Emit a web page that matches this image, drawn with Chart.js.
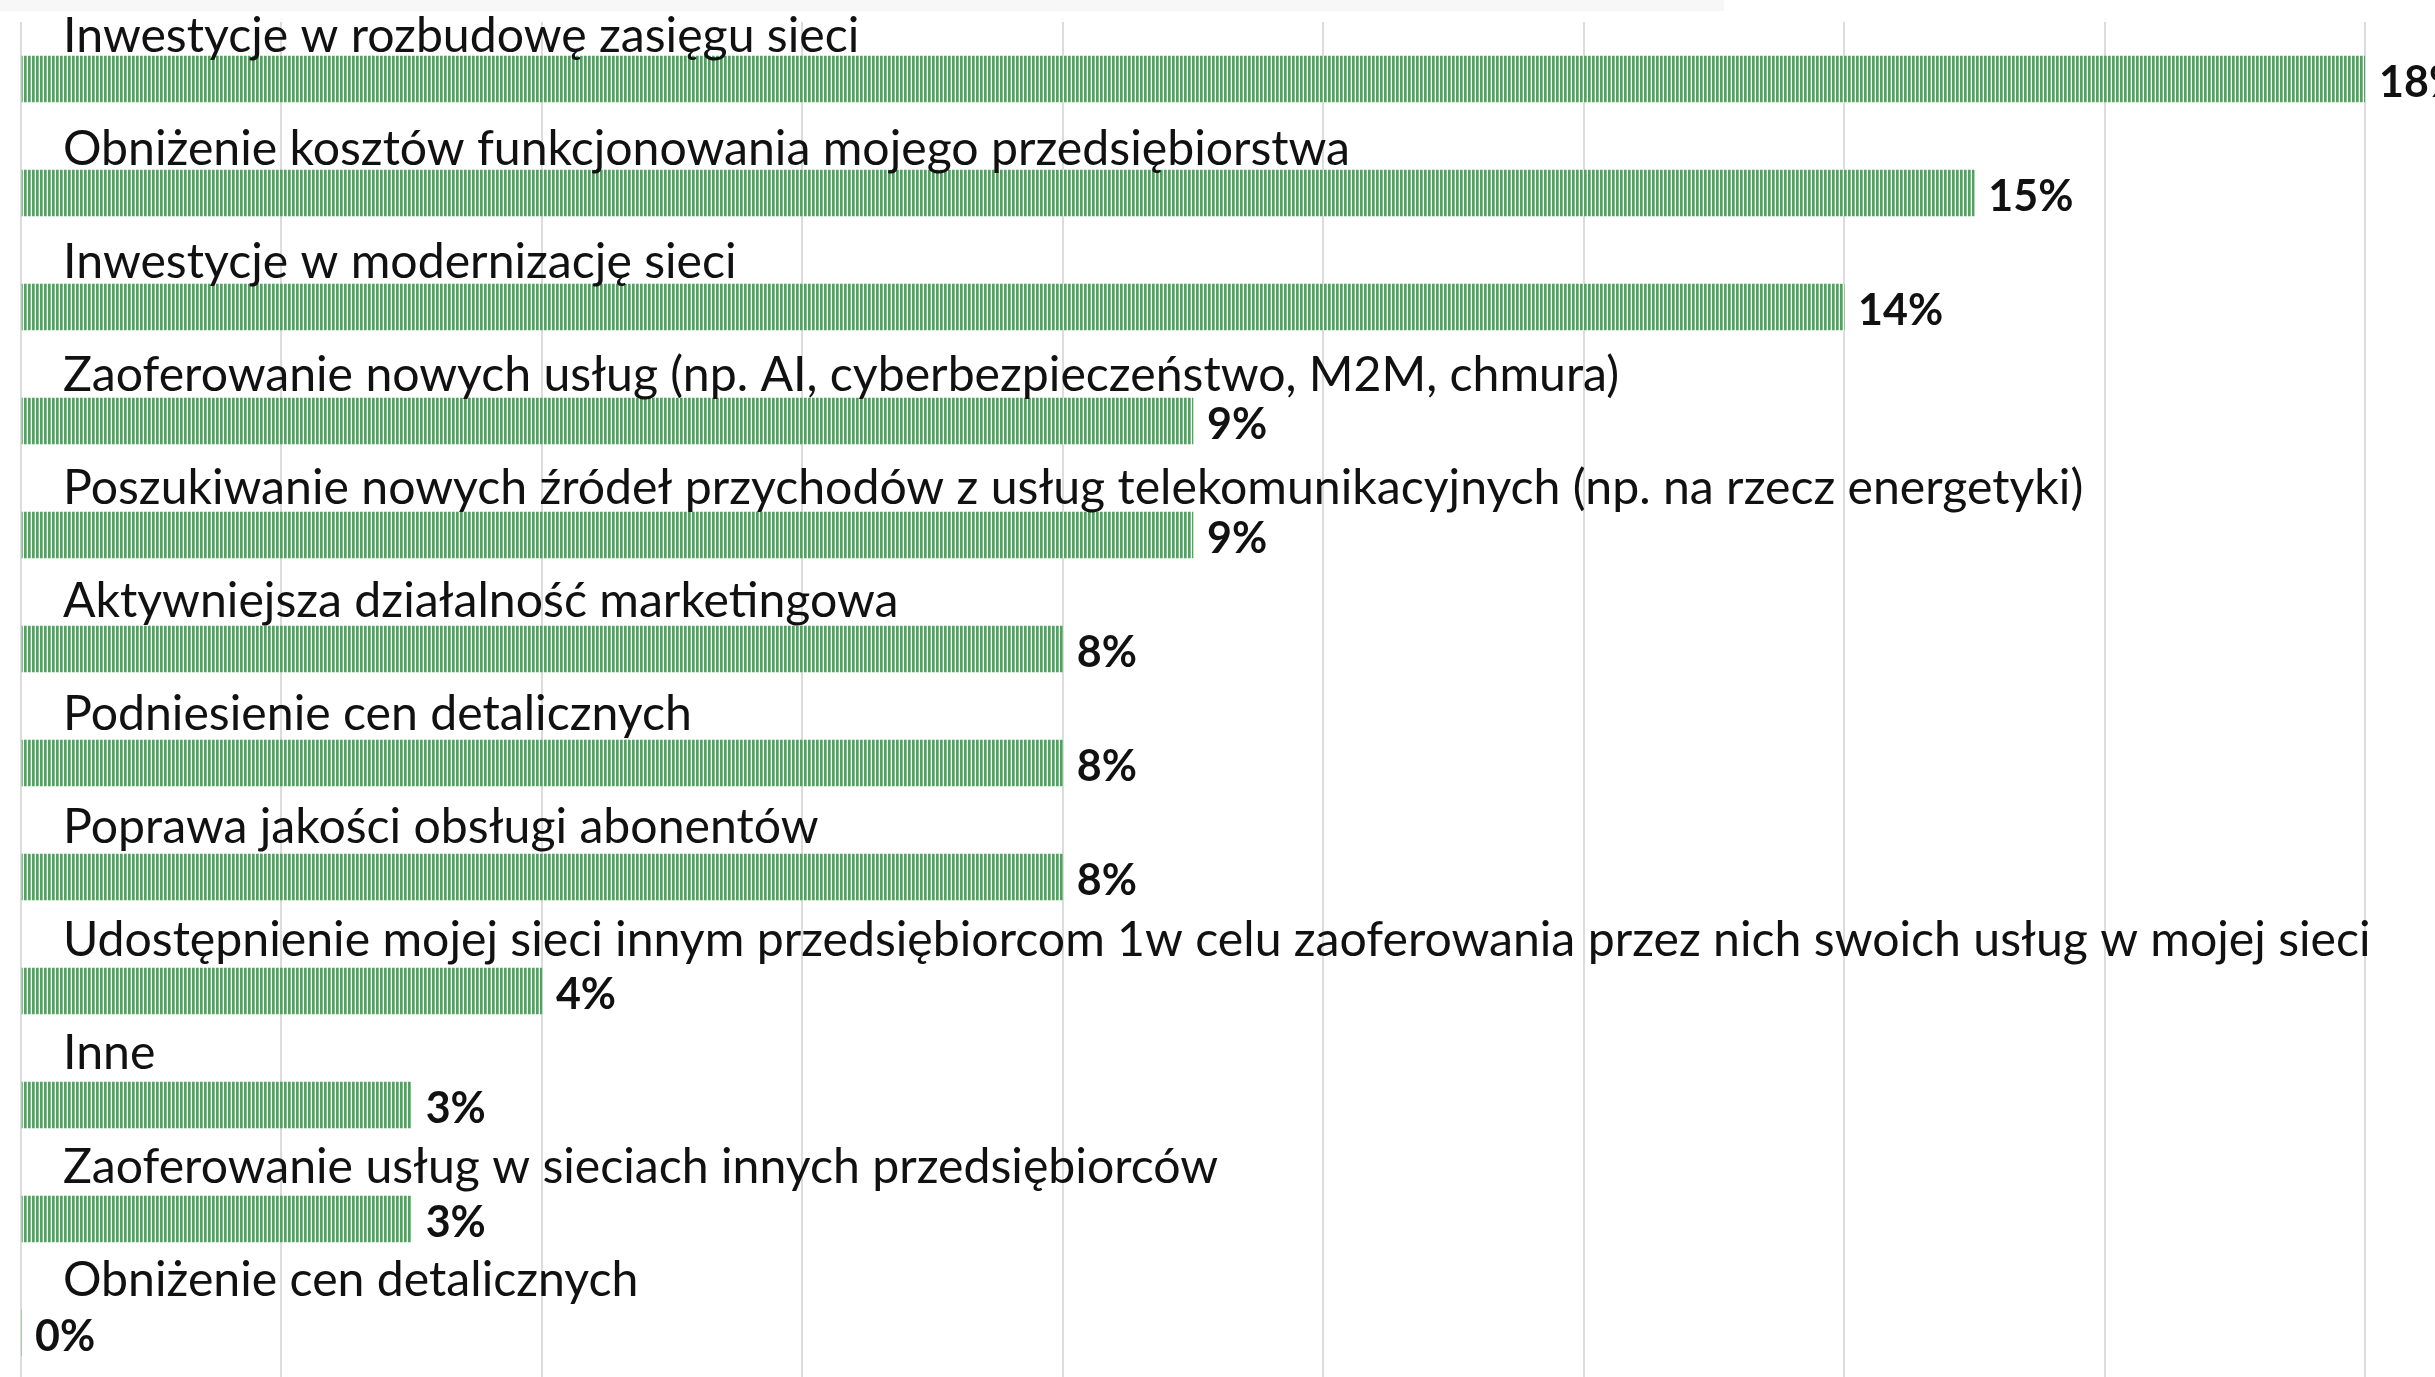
<!DOCTYPE html>
<html>
<head>
<meta charset="utf-8">
<title>Wykres</title>
<script src="https://cdn.jsdelivr.net/npm/chart.js@4.4.1/dist/chart.umd.min.js"></script>
<style>
    html, body { margin: 0; padding: 0; background: #fff; overflow: hidden; }
    #topband { position: absolute; left: 0; top: 0; width: 1724px; height: 11px; background: #f7f7f7; }
    #chart { display: block; }
</style>
</head>
<body>
<div id="topband"></div>
<canvas id="chart" width="2435" height="1395"></canvas>
<script>
// dane
const categories = [
    'Inwestycje w rozbudowę zasięgu sieci',
    'Obniżenie kosztów funkcjonowania mojego przedsiębiorstwa',
    'Inwestycje w modernizację sieci',
    'Zaoferowanie nowych usług (np. AI, cyberbezpieczeństwo, M2M, chmura)',
    'Poszukiwanie nowych źródeł przychodów z usług telekomunikacyjnych (np. na rzecz energetyki)',
    'Aktywniejsza działalność marketingowa',
    'Podniesienie cen detalicznych',
    'Poprawa jakości obsługi abonentów',
    'Udostępnienie mojej sieci innym przedsiębiorcom 1w celu zaoferowania przez nich swoich usług w mojej sieci',
    'Inne',
    'Zaoferowanie usług w sieciach innych przedsiębiorców',
    'Obniżenie cen detalicznych'
];
const values = [18, 15, 14, 9, 9, 8, 8, 8, 4, 3, 3, 0];
const xTicks = [0, 2, 4, 6, 8, 10, 12, 14, 16, 18];

// paski w pionowe prążki
function stripes() {
    const c = document.createElement('canvas');
    c.width = 4;
    c.height = 4;
    const g = c.getContext('2d');
    g.fillStyle = '#ffffff';
    g.fillRect(0, 0, 4, 4);
    g.fillStyle = '#4ea35f';
    g.fillRect(0, 0, 2.7, 4);
    return g.createPattern(c, 'repeat');
}

const rowLabels = {
    id: 'rowLabels',
    afterDatasetsDraw: function(chart) {
        const ctx = chart.ctx;
        const meta = chart.getDatasetMeta(0);
        meta.data.forEach(function(bar, i) {
            const p = bar.getProps(['x', 'y', 'height'], true);
            ctx.save();
            ctx.fillStyle = '#111';
            ctx.font = '48.2px Lato';
            ctx.textBaseline = 'alphabetic';
            ctx.textAlign = 'left';
            // opisy lekko "uciekają" w górę względem pasków, jak w oryginale
            ctx.fillText(categories[i], 63, p.y - p.height / 2 - 4 - i * 0.95);
            ctx.font = 'bold 43px Lato';
            ctx.textBaseline = 'middle';
            ctx.fillText(values[i] + '%', p.x + 14, p.y + 4);
            ctx.restore();
        });
    }
};

new Chart(document.getElementById('chart'), {
    type: 'bar',
    data: {
        labels: categories,
        datasets: [{
            data: values,
            backgroundColor: stripes(),
            borderWidth: 0,
            barThickness: 46
        }]
    },
    options: {
        indexAxis: 'y',
        responsive: false,
        animation: false,
        devicePixelRatio: 1,
        layout: { padding: { left: 21, right: 70, top: 22, bottom: 5 } },
        plugins: {
            legend: { display: false },
            tooltip: { enabled: false }
        },
        scales: {
            x: {
                min: xTicks[0],
                max: xTicks[xTicks.length - 1],
                afterBuildTicks: function(axis) {
                    axis.ticks = xTicks.map(function(v) { return { value: v }; });
                },
                ticks: { display: false },
                grid: { color: '#dcdcdc', lineWidth: 2, drawTicks: false },
                border: { display: false }
            },
            y: {
                display: false
            }
        }
    },
    plugins: [rowLabels]
});
</script>
</body>
</html>
